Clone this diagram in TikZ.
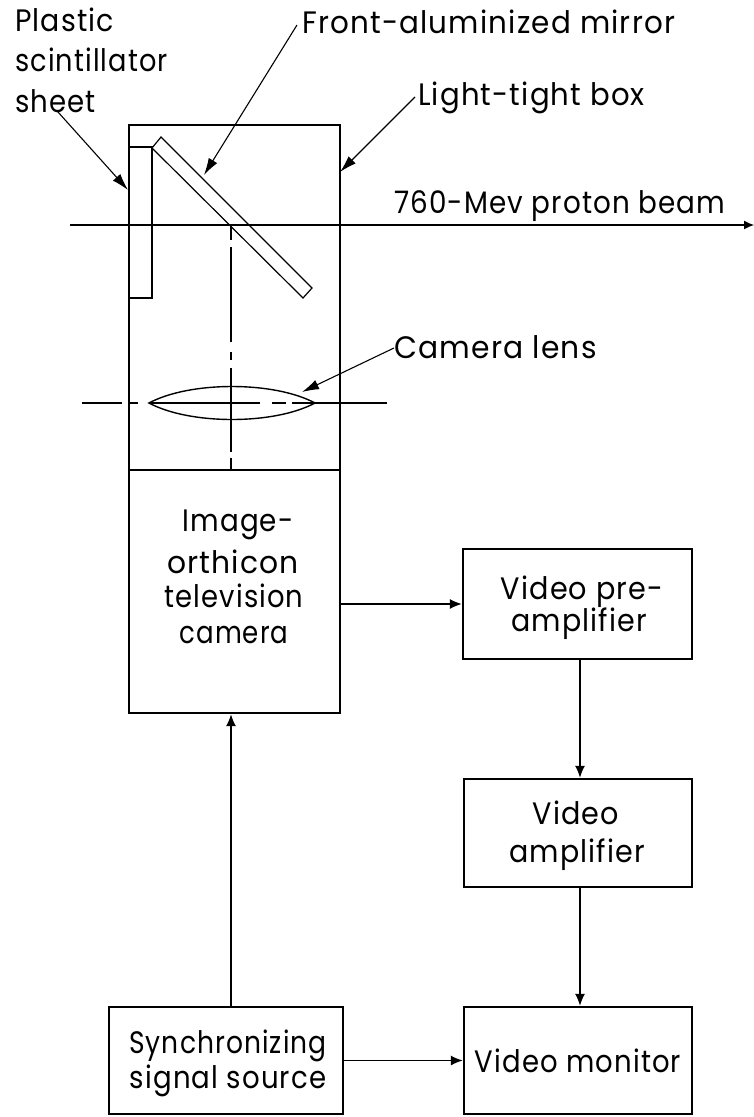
\documentclass[tikz,border=0pt]{standalone}
\usepackage{graphicx}
\usepackage{fontspec}
\setmainfont{Poppins}[LetterSpace=4]
\usetikzlibrary{arrows.meta}
\newcommand\squeezed[2]{\scalebox{#1}[1]{#2}}
\tikzset{
  blockbox/.style={draw,line width=2.4pt,inner sep=0pt},
  wire/.style={line width=1.3pt,-{Latex[length=12pt,width=10pt]}},
  leader/.style={line width=1.1pt,-{Latex[length=17pt,width=10pt]}},
  thin part/.style={line width=1.2pt},
  lab/.style={anchor=base west,inner sep=0pt,font=\fontsize{31}{32}\selectfont},
  clab/.style={anchor=base,inner sep=0pt,font=\fontsize{31}{32}\selectfont},
}
\begin{document}
\begin{tikzpicture}[x=1pt,y=-1pt]
\useasboundingbox (0,0) rectangle (754,1117);
% boxes
\node[blockbox,minimum width=211pt,minimum height=345pt] (dark) at (234.5,297.5) {};
\node[blockbox,minimum width=211pt,minimum height=243pt] (cam) at (234.5,591.5) {};
\node[blockbox,minimum width=229pt,minimum height=110pt] (pre) at (577.5,604) {};
\node[blockbox,minimum width=228pt,minimum height=108pt] (amp) at (578,833) {};
\node[blockbox,minimum width=228pt,minimum height=107pt] (mon) at (578,1060.5) {};
\node[blockbox,minimum width=234pt,minimum height=107pt] (sync) at (226,1060.5) {};
% scintillator sheet and mirror
\draw[thin part] (130,147) -- (152,147) -- (152,298) -- (130,298);
\draw[thin part] (152,148) -- (161,137) -- (312,288) -- (303,298) -- cycle;
% beam
\coordinate (beamL) at (70,225);
\coordinate (beamR) at (754,225);
\draw[line width=1.1pt,-{Latex[length=10pt,width=9pt]}] (beamL) -- (beamR);
% optical axis
\draw[thin part] (231,225) -- (231,240) (231,247) -- (231,342) (231,352) -- (231,360) (231,368) -- (231,452) (231,458) -- (231,470);
% lens
\draw[line width=1.4pt] (149,403) .. controls (190,381) and (274,381) .. (315,403) .. controls (274,425) and (190,425) .. (149,403) -- cycle;
\draw[line width=1.1pt] (82,403) -- (122,403) (128,403) -- (138,403) (150,403) -- (260,403) (272,403) -- (286,403) (292,403) -- (387,403);
% labels
\node[lab] (t1) at (15,31) {\squeezed{.917}{Plastic}};
\node[lab] (t2) at (15,71) {\squeezed{.878}{scintillator}};
\node[lab] (t3) at (15,112) {\squeezed{.89}{sheet}};
\node[lab] (t4) at (302,33) {\squeezed{.948}{Front-aluminized mirror}};
\node[lab] (t5) at (418,105) {\squeezed{.94}{Light-tight box}};
\node[lab] (t6) at (394,213) {\squeezed{.897}{760-Mev proton beam}};
\node[lab] (t7) at (394,358) {\squeezed{.96}{Camera lens}};
\node[clab] (c1) at (238,531) {\squeezed{.895}{Image-}};
\node[clab] (c2) at (233,573) {\squeezed{.96}{orthicon}};
\node[clab] (c3) at (234,607) {\squeezed{.885}{television}};
\node[clab] (c4) at (234,643) {\squeezed{.84}{camera}};
\node[clab] (p1) at (582,599) {\squeezed{.925}{Video pre-}};
\node[clab] (p2) at (579,631) {\squeezed{.92}{amplifier}};
\node[clab] (a1) at (576,824) {\squeezed{.924}{Video}};
\node[clab] (a2) at (577,862) {\squeezed{.92}{amplifier}};
\node[clab] (m1) at (578,1072) {\squeezed{.887}{Video monitor}};
\node[clab] (s1) at (228,1053) {\squeezed{.857}{Synchronizing}};
\node[clab] (s2) at (228,1088) {\squeezed{.89}{signal source}};
% leaders
\coordinate (l1) at (58,112); \coordinate (l1e) at (128,190);
\coordinate (l2) at (297,25); \coordinate (l2e) at (204,175);
\coordinate (l3) at (415,97); \coordinate (l3e) at (340,172);
\coordinate (l4) at (394,348); \coordinate (l4e) at (302,392);
\draw[leader] (l1) -- (l1e);
\draw[leader] (l2) -- (l2e);
\draw[leader] (l3) -- (l3e);
\draw[leader] (l4) -- (l4e);
% connectors
\draw[wire] (cam.east |- pre.west) -- (pre.west);
\draw[wire] (pre.south -| 580,0) -- (amp.north -| 580,0);
\draw[wire] (amp.south -| 580,0) -- (mon.north -| 580,0);
\draw[wire] (sync.east |- mon.west) -- (mon.west);
\draw[wire] (sync.north -| 231,0) -- (cam.south -| 231,0);
\end{tikzpicture}
\end{document}
